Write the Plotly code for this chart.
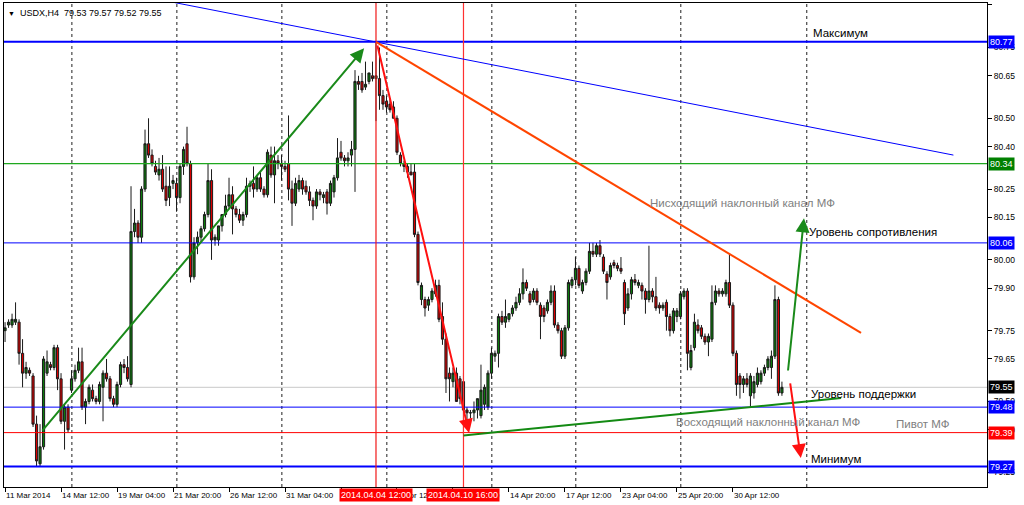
import plotly.graph_objects as go

# ---------------- data (H4 bars, index 0 = 11 Mar 2014 20:00) ----------------
opens = [79.75,79.77,79.77,79.78,79.78,79.67,79.60,79.61,79.59,79.42,79.28,79.34,79.60,79.63,79.62,79.69,79.58,79.43,79.48,79.54,
         79.58,79.61,79.64,79.48,79.50,79.54,79.51,79.50,79.55,79.60,79.58,79.51,79.49,79.56,79.63,79.62,79.56,80.10,80.13,80.08,
         80.25,80.41,80.37,80.33,80.30,80.32,80.26,80.22,80.27,80.27,80.22,80.33,80.41,80.34,79.94,80.06,80.08,80.11,80.16,80.28,
         80.07,80.07,80.12,80.16,80.19,80.23,80.18,80.16,80.14,80.16,80.26,80.27,80.25,80.29,80.25,80.23,80.37,80.30,80.35,80.34,
         80.33,80.34,80.25,80.20,80.25,80.28,80.26,80.24,80.21,80.19,80.24,80.22,80.24,80.20,80.24,80.29,80.38,80.36,80.35,80.37,
         80.39,80.63,80.63,80.61,80.63,80.65,80.64,80.64,80.58,80.56,80.55,80.54,80.50,80.37,80.34,80.33,80.31,80.31,80.09,79.86,
         79.86,79.84,79.86,79.88,79.91,79.80,79.72,79.60,79.57,79.60,79.58,79.57,79.47,79.46,79.46,79.47,79.45,79.49,79.48,79.60,
         79.66,79.67,79.80,79.78,79.79,79.81,79.83,79.85,79.88,79.92,79.88,79.86,79.89,79.84,79.83,79.82,79.85,79.89,79.77,79.75,
         79.66,79.76,79.91,79.93,79.97,79.89,79.92,79.96,80.03,80.02,80.05,80.01,79.95,79.94,79.99,79.98,79.97,79.92,79.83,79.88,
         79.93,79.91,79.91,79.89,79.86,79.89,79.87,79.84,79.83,79.85,79.80,79.75,79.80,79.80,79.87,79.89,79.62,79.69,79.77,79.76,
         79.73,79.71,79.72,79.85,79.89,79.88,79.88,79.92,79.84,79.67,79.59,79.56,79.58,79.52,79.53,79.56,79.57,79.60,79.62,79.62,
         79.66,79.86,79.53]
highs = [79.78,79.79,79.81,79.85,79.79,79.72,79.64,79.62,79.60,79.45,79.42,79.66,79.68,79.64,79.70,79.70,79.60,79.49,79.49,79.61,
         79.63,79.69,79.69,79.51,79.56,79.56,79.52,79.57,79.61,79.65,79.59,79.52,79.57,79.64,79.65,79.66,80.26,80.18,80.14,80.26,
         80.46,80.50,80.39,80.35,80.36,80.37,80.33,80.33,80.30,80.29,80.34,80.40,80.47,80.35,80.08,80.10,80.12,80.17,80.34,80.32,
         80.09,80.12,80.16,80.23,80.29,80.26,80.19,80.18,80.17,80.29,80.28,80.33,80.30,80.31,80.26,80.39,80.40,80.40,80.37,80.37,
         80.35,80.51,80.28,80.29,80.30,80.29,80.28,80.26,80.22,80.25,80.25,80.24,80.25,80.28,80.30,80.43,80.42,80.37,80.38,80.42,
         80.67,80.65,80.66,80.70,80.66,80.70,80.77,80.75,80.60,80.58,80.57,80.56,80.51,80.38,80.35,80.34,80.34,80.34,80.10,79.92,
         79.87,79.87,79.90,79.93,79.93,79.85,79.74,79.62,79.62,79.62,79.59,79.60,79.48,79.47,79.50,79.51,79.63,79.56,79.61,79.69,
         79.68,79.81,79.82,79.86,79.81,79.84,79.87,79.90,79.97,79.93,79.89,79.90,79.90,79.85,79.84,79.86,79.91,79.91,79.78,79.76,
         79.77,79.93,79.94,80.01,79.98,79.93,79.97,80.06,80.06,80.06,80.07,80.02,79.96,79.99,80.00,79.99,80.01,79.93,79.90,79.94,
         79.95,79.93,79.92,79.90,80.05,79.90,79.94,79.85,79.85,79.86,79.81,79.83,79.83,79.89,79.90,79.90,79.70,79.81,79.79,79.77,
         79.74,79.74,79.91,79.91,79.90,79.90,79.93,80.02,79.85,79.68,79.60,79.59,79.60,79.60,79.59,79.62,79.61,79.63,79.66,79.68,
         79.91,79.87,79.57]
lows = [79.71,79.76,79.76,79.77,79.63,79.55,79.58,79.59,79.41,79.27,79.27,79.33,79.59,79.61,79.61,79.54,79.42,79.33,79.39,79.53,
        79.57,79.60,79.47,79.42,79.49,79.50,79.49,79.49,79.43,79.57,79.50,79.48,79.48,79.55,79.60,79.57,79.55,80.08,80.06,80.06,
        80.24,80.36,80.33,80.30,80.28,80.24,80.19,80.19,80.25,80.17,80.20,80.30,80.33,79.92,79.93,80.02,80.06,80.10,80.15,80.00,
        80.05,80.05,80.10,80.15,80.18,80.09,80.15,80.13,80.12,80.15,80.24,80.22,80.24,80.24,80.22,80.22,80.29,80.20,80.32,80.28,
        80.31,80.21,80.12,80.19,80.24,80.23,80.23,80.19,80.14,80.18,80.21,80.20,80.16,80.19,80.22,80.28,80.35,80.33,80.33,80.33,
        80.24,80.60,80.59,80.60,80.62,80.63,80.49,80.53,80.53,80.52,80.52,80.50,80.37,80.33,80.31,80.29,80.30,80.08,79.91,79.84,
        79.80,79.82,79.85,79.87,79.78,79.70,79.53,79.50,79.55,79.50,79.49,79.38,79.43,79.44,79.43,79.44,79.44,79.47,79.47,79.58,
        79.64,79.62,79.77,79.76,79.78,79.80,79.82,79.84,79.86,79.89,79.84,79.85,79.84,79.72,79.78,79.81,79.84,79.76,79.74,79.65,
        79.65,79.75,79.90,79.91,79.90,79.88,79.91,79.95,80.01,80.01,80.01,79.95,79.86,79.93,79.97,79.96,79.95,79.77,79.82,79.86,
        79.91,79.90,79.86,79.81,79.85,79.85,79.82,79.81,79.82,79.75,79.73,79.74,79.78,79.79,79.86,79.61,79.61,79.68,79.74,79.72,
        79.70,79.66,79.71,79.84,79.87,79.87,79.87,79.83,79.66,79.52,79.51,79.53,79.55,79.48,79.51,79.55,79.56,79.59,79.61,79.58,
        79.65,79.52,79.52]
closes = [79.76,79.78,79.79,79.79,79.67,79.60,79.62,79.60,79.42,79.29,79.34,79.65,79.64,79.62,79.69,79.58,79.43,79.48,79.40,79.58,
          79.61,79.64,79.48,79.50,79.55,79.51,79.50,79.56,79.60,79.58,79.51,79.49,79.56,79.63,79.62,79.58,80.10,80.13,80.08,80.25,
          80.41,80.37,80.34,80.31,80.32,80.25,80.21,80.26,80.28,80.22,80.33,80.39,80.34,79.94,80.06,80.08,80.11,80.16,80.28,80.07,
          80.08,80.12,80.16,80.19,80.23,80.18,80.16,80.14,80.16,80.26,80.27,80.25,80.29,80.25,80.23,80.38,80.30,80.35,80.34,80.33,
          80.32,80.25,80.20,80.27,80.28,80.25,80.24,80.21,80.19,80.24,80.23,80.23,80.20,80.27,80.29,80.36,80.36,80.35,80.36,80.39,
          80.63,80.62,80.60,80.62,80.66,80.64,80.65,80.58,80.55,80.54,80.53,80.50,80.38,80.34,80.33,80.31,80.30,80.09,79.92,79.91,
          79.83,79.86,79.89,79.91,79.79,79.72,79.58,79.58,79.60,79.50,79.51,79.47,79.46,79.46,79.47,79.51,79.54,79.55,79.60,79.67,
          79.67,79.80,79.78,79.80,79.81,79.83,79.85,79.88,79.92,79.90,79.85,79.89,79.85,79.80,79.80,79.85,79.89,79.77,79.75,79.66,
          79.76,79.92,79.93,79.97,79.91,79.92,79.96,80.03,80.02,80.05,80.02,79.96,79.92,79.98,79.98,79.97,79.96,79.81,79.88,79.93,
          79.92,79.92,79.89,79.86,79.89,79.87,79.83,79.83,79.84,79.80,79.75,79.82,79.82,79.88,79.89,79.67,79.68,79.78,79.75,79.73,
          79.71,79.73,79.85,79.89,79.88,79.89,79.92,79.84,79.67,79.56,79.56,79.58,79.56,79.59,79.57,79.60,79.60,79.62,79.65,79.66,
          79.86,79.53,79.55]
bar_index = list(range(len(opens)))

# time-axis labels (bar index -> label)
time_tick_bars = [0, 16, 32, 48, 64, 80, 96, 112, 128, 144, 160, 176, 192, 208]
time_tick_text = ["11 Mar 2014", "14 Mar 12:00", "19 Mar 04:00", "21 Mar 20:00", "26 Mar 12:00",
                  "31 Mar 04:00", "2 Apr 20:00", "7 Apr 12:00", "10 Apr 04:00", "14 Apr 20:00",
                  "17 Apr 12:00", "23 Apr 04:00", "25 Apr 20:00", "30 Apr 12:00"]
week_grid_bars = [19.1, 49.1, 79.1, 109.1, 139.1, 163.1, 193.1, 229.1]

price_ticks = [80.90, 80.75, 80.65, 80.50, 80.40, 80.25, 80.15, 80.00, 79.90, 79.75, 79.65, 79.50, 79.40, 79.25]

# horizontal levels
level_prices = [80.77, 80.34, 80.06, 79.48, 79.39, 79.27]
level_colors = ["#0000ff", "#1fa81f", "#0000ff", "#0000ff", "#ff0000", "#0000ff"]
level_widths = [2, 1.2, 1, 1, 1, 2]
level_label_bg = ["#0000ff", "#008000", "#0000ff", "#0000ff", "#ff0000", "#0000ff"]
bid_price = 79.55

# vertical markers
vline_bars = [106, 131]
vline_text = ["2014.04.04 12:00", "2014.04.10 16:00"]
vline_colors = ["#f01818", "#ff3030"]

# trend lines (bar index, price)
blue_trend = [(40, 80.929), (271, 80.37)]
orange_trend = [(106, 80.77), (244.6, 79.742)]
green_support = [(131, 79.38), (238.9, 79.512)]

# arrows: (tail_bar, tail_price, head_bar, head_price, colour)
arrows = [
    (10.3, 79.392, 102.6, 80.747, "#1a8a1a"),
    (106.3, 80.762, 132.6, 79.389, "#ff1010"),
    (223.7, 79.604, 228.3, 80.147, "#1a8a1a"),
    (224.3, 79.569, 227.4, 79.300, "#ff1010"),
]

# text labels: (bar, price, text, colour)
labels = [
    (230.3, 80.800, "Максимум", "#000000"),
    (183.7, 80.200, "Нисходящий наклонный канал МФ", "#808080"),
    (229.1, 80.100, "Уровень сопротивления", "#000000"),
    (229.7, 79.526, "Уровень поддержки", "#000000"),
    (191.1, 79.427, "Восходящий наклонный канал МФ", "#808080"),
    (254.0, 79.420, "Пивот МФ", "#808080"),
    (229.7, 79.297, "Минимум", "#000000"),
]

FONT = "Liberation Sans, Arial, sans-serif"

fig = go.Figure()
fig.add_trace(go.Candlestick(
    x=bar_index, open=opens, high=highs, low=lows, close=closes,
    increasing=dict(line=dict(color="#1a1a1a", width=1), fillcolor="#0c7a0c"),
    decreasing=dict(line=dict(color="#1a1a1a", width=1), fillcolor="#d80000"),
    whiskerwidth=0, hoverinfo="skip", showlegend=False,
))

shapes = []
for gx in week_grid_bars:
    shapes.append(dict(type="line", xref="x", yref="paper", x0=gx, x1=gx, y0=0, y1=1,
                       line=dict(color="#202020", width=1, dash="dot"), layer="below"))
shapes.append(dict(type="line", xref="paper", yref="y", x0=0, x1=1, y0=bid_price, y1=bid_price,
                   line=dict(color="#c8c8c8", width=1), layer="below"))
for p, c, w in zip(level_prices, level_colors, level_widths):
    shapes.append(dict(type="line", xref="paper", yref="y", x0=0, x1=1, y0=p, y1=p,
                       line=dict(color=c, width=w)))
for b, c in zip(vline_bars, vline_colors):
    shapes.append(dict(type="line", xref="x", yref="paper", x0=b, x1=b, y0=0, y1=1,
                       line=dict(color=c, width=1.2)))
for pts, c, w in [(blue_trend, "#0000ff", 1), (orange_trend, "#ff4500", 2), (green_support, "#138a13", 2)]:
    shapes.append(dict(type="line", xref="x", yref="y", x0=pts[0][0], y0=pts[0][1],
                       x1=pts[1][0], y1=pts[1][1], line=dict(color=c, width=w)))
fig.update_layout(shapes=shapes)

ann = []
for tb, tp, hb, hp, c in arrows:
    ann.append(dict(x=hb, y=hp, ax=tb, ay=tp, xref="x", yref="y", axref="x", ayref="y",
                    text="", showarrow=True, arrowhead=2, arrowsize=1.4, arrowwidth=2,
                    arrowcolor=c, standoff=0, startstandoff=0))
for b, p, t, c in labels:
    ann.append(dict(x=b, y=p, xref="x", yref="y", text=t, showarrow=False, xanchor="left",
                    yanchor="middle", font=dict(family=FONT, size=11.5, color=c)))
# price labels on the right axis
for p, bg in zip(level_prices, level_label_bg):
    ann.append(dict(x=1, y=p, xref="paper", yref="y", text=f"{p:.2f}", showarrow=False,
                    xanchor="left", yanchor="middle", xshift=1, bgcolor=bg, borderpad=1,
                    font=dict(family=FONT, size=9, color="#ffffff")))
ann.append(dict(x=1, y=bid_price, xref="paper", yref="y", text=f"{bid_price:.2f}", showarrow=False,
                xanchor="left", yanchor="middle", xshift=1, bgcolor="#000000", borderpad=1,
                font=dict(family=FONT, size=9, color="#ffffff")))
# date labels on the time axis
for b, t in zip(vline_bars, vline_text):
    ann.append(dict(x=b, y=0, xref="x", yref="paper", text=t, showarrow=False,
                    xanchor="center", yanchor="top", yshift=-1, bgcolor="#ff0000", borderpad=1,
                    font=dict(family=FONT, size=9, color="#ffffff")))
# header
ann.append(dict(x=0, y=1, xref="paper", yref="paper", xanchor="left", yanchor="top",
                xshift=2, yshift=-3, showarrow=False,
                text="<span style='font-size:7px'>▼</span>  USDX,H4  79.53 79.57 79.52 79.55",
                font=dict(family=FONT, size=9, color="#000000")))
fig.update_layout(annotations=ann)

fig.update_layout(
    width=1024, height=505,
    margin=dict(l=4, r=37, t=3, b=18, autoexpand=False),
    paper_bgcolor="#ffffff", plot_bgcolor="#ffffff",
    boxgap=0.12,
    xaxis=dict(range=[-0.3, 280.6], tickmode="array", tickvals=time_tick_bars, ticktext=time_tick_text,
               ticks="outside", ticklen=4, tickcolor="#000000", ticklabelposition="outside right",
               tickangle=0, automargin=False,
               tickfont=dict(family=FONT, size=8, color="#000000"),
               showgrid=False, zeroline=False, showline=True, mirror=True, linecolor="#000000",
               linewidth=1, rangeslider=dict(visible=False), fixedrange=True),
    yaxis=dict(range=[79.198, 80.907], side="right", tickmode="array", tickvals=price_ticks,
               ticktext=[f"{v:.2f}" for v in price_ticks], ticks="outside", ticklen=4,
               tickcolor="#000000", tickfont=dict(family=FONT, size=8.5, color="#000000"),
               automargin=False,
               showgrid=False, zeroline=False, showline=True, mirror=True, linecolor="#000000",
               linewidth=1, fixedrange=True),
)

fig.write_html("out.html", config={"displayModeBar": False},
               post_script="document.body.style.margin='0';document.body.style.overflow='hidden';")
